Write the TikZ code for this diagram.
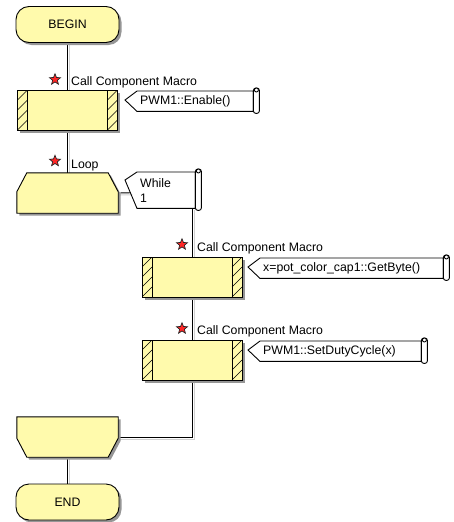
\documentclass[tikz,border=0pt]{standalone}
\usepackage{fontspec}
\setmainfont{Liberation Sans}
\usetikzlibrary{shapes.geometric,shadows,calc,backgrounds}
\definecolor{fy}{RGB}{255,250,172}
\definecolor{sh}{RGB}{150,150,150}
\newcommand\cmtframe[2]{%
  \draw[cline] ([xshift=12pt]#1.north west) -- (#1.north east) -- (#1.south east) -- ([xshift=12pt]#1.south west) -- ([yshift=-#2]#1.north west) -- cycle;
  \draw[cline, fill=white, rounded corners=2.5pt] ([yshift=3pt]#1.north east) rectangle ([xshift=6pt,yshift=-2pt]#1.south east);
  \draw[cline, fill=white] ([xshift=3pt,yshift=1pt]#1.north east) circle (2pt);
}
\begin{document}
\begin{tikzpicture}[x=1pt,y=-1pt, font=\fontsize{12.3}{15}\selectfont,
  cline/.style={draw=black, line width=0.9pt},
  shd/.style={drop shadow={shadow xshift=2.5pt, shadow yshift=-2.5pt, fill=sh, opacity=1}},
  term/.style={cline, fill=fy, rectangle, rounded corners=13pt, minimum width=103pt, minimum height=36pt, inner sep=0pt, shd},
  callbox/.style={cline, fill=fy, rectangle, minimum width=100pt, minimum height=40pt, inner sep=0pt, shd,
    path picture={
      \coordinate (ppsw) at (path picture bounding box.south west);
      \coordinate (ppse) at (path picture bounding box.south east);
      \coordinate (ppnw) at (path picture bounding box.north west);
      \coordinate (ppne) at (path picture bounding box.north east);
      \draw[line width=0.9pt] ([xshift=10pt]ppsw) -- ([xshift=10pt]ppnw);
      \draw[line width=0.9pt] ([xshift=-10pt]ppse) -- ([xshift=-10pt]ppne);
      \foreach \k in {0,1,2,3,4}{
        \draw[line width=0.6pt] ([yshift=\k*10pt]ppsw) -- ++(10pt,10pt);
        \draw[line width=0.6pt] ([xshift=-10pt,yshift=\k*10pt]ppse) -- ++(10pt,10pt);
      }
    }},
  loopbox/.style={rectangle, minimum width=101pt, minimum height=40pt, inner sep=0pt},
  loopshape/.style={cline, fill=fy, shd},
  frame/.style={rectangle, inner sep=0pt, anchor=north west},
  ctext/.style={anchor=west, inner sep=0pt},
  lbl/.style={anchor=base west, inner sep=0pt},
  redstar/.style={star, star points=5, star point ratio=2.3, minimum size=11.5pt, inner sep=0pt, fill=red!85!white, draw=black!85, line width=0.7pt},
  conn/.style={draw=black, line width=0.9pt, preaction={draw=black!18, line width=1pt, transform canvas={shift={(2pt,-2pt)}}}}
]
\useasboundingbox (0,0) rectangle (453,522);

% main column
\node[term] (begin) at (67.5,24.5) {BEGIN};
\node[callbox] (c1) at (67.5,110) {};
\node[loopbox] (ls) at (67.5,193) {};
\node[loopbox] (le) at (67.5,437) {};
\node[term] (end) at (67.5,502) {END};

% loop body
\node[callbox] (c2) at (192,277) {};
\node[callbox] (c3) at (192,360) {};

% loop shapes
\path[loopshape] ([yshift=-19pt]ls.north west) -- ([xshift=10pt]ls.north west) -- ([xshift=-10pt]ls.north east) -- ([yshift=-19pt]ls.north east) -- (ls.south east) -- (ls.south west) -- cycle;
\path[loopshape] (le.north west) -- (le.north east) -- ([yshift=19pt]le.south east) -- ([xshift=-10pt]le.south east) -- ([xshift=10pt]le.south west) -- ([yshift=19pt]le.south west) -- cycle;

% comment frames
\node[frame, minimum width=128pt, minimum height=20pt] (m1) at (125,91) {};
\node[frame, minimum width=70pt, minimum height=36pt] (w) at (125,172) {};
\node[frame, minimum width=195pt, minimum height=20pt] (m2) at (248,258) {};
\node[frame, minimum width=173pt, minimum height=20pt] (m3) at (248,341) {};

\coordinate (wc) at ($([yshift=-8pt]w.north west)!0.45!([xshift=12pt]w.south west)$);

\cmtframe{m1}{9pt}
\cmtframe{w}{8pt}
\cmtframe{m2}{9pt}
\cmtframe{m3}{9pt}

% connectors behind the shapes
\begin{scope}[on background layer]
\draw[conn] (begin.south) -- (c1.north);
\draw[conn] (c1.south) -- (ls.north);
\draw[conn] (ls.east) -- (wc);
\draw[conn] (w.south -| c2.north) -- (c2.north);
\draw[conn] (c2.south) -- (c3.north);
\draw[conn] (c3.south) |- (le.east);
\draw[conn] (le.south) -- (end.north);
\end{scope}

% comment texts
\node[ctext] (t1) at ([xshift=15pt]m1.west) {PWM1::Enable()};
\node[ctext, align=left] (tw) at ([xshift=15pt]w.west) {While\\1};
\node[ctext] (t2) at ([xshift=15pt]m2.west) {x=pot\_color\_cap1::GetByte()};
\node[ctext] (t3) at ([xshift=15pt]m3.west) {PWM1::SetDutyCycle(x)};

% labels with stars
\node[redstar] (s1) at (55,79.5) {};
\node[lbl] (l1) at (71,85) {Call Component Macro};
\node[redstar] (s2) at (55,161) {};
\node[lbl] (l2) at (71,168) {Loop};
\node[redstar] (s3) at (182,244.5) {};
\node[lbl] (l3) at (197,251) {Call Component Macro};
\node[redstar] (s4) at (182,328.5) {};
\node[lbl] (l4) at (197,334.5) {Call Component Macro};
\end{tikzpicture}
\end{document}
